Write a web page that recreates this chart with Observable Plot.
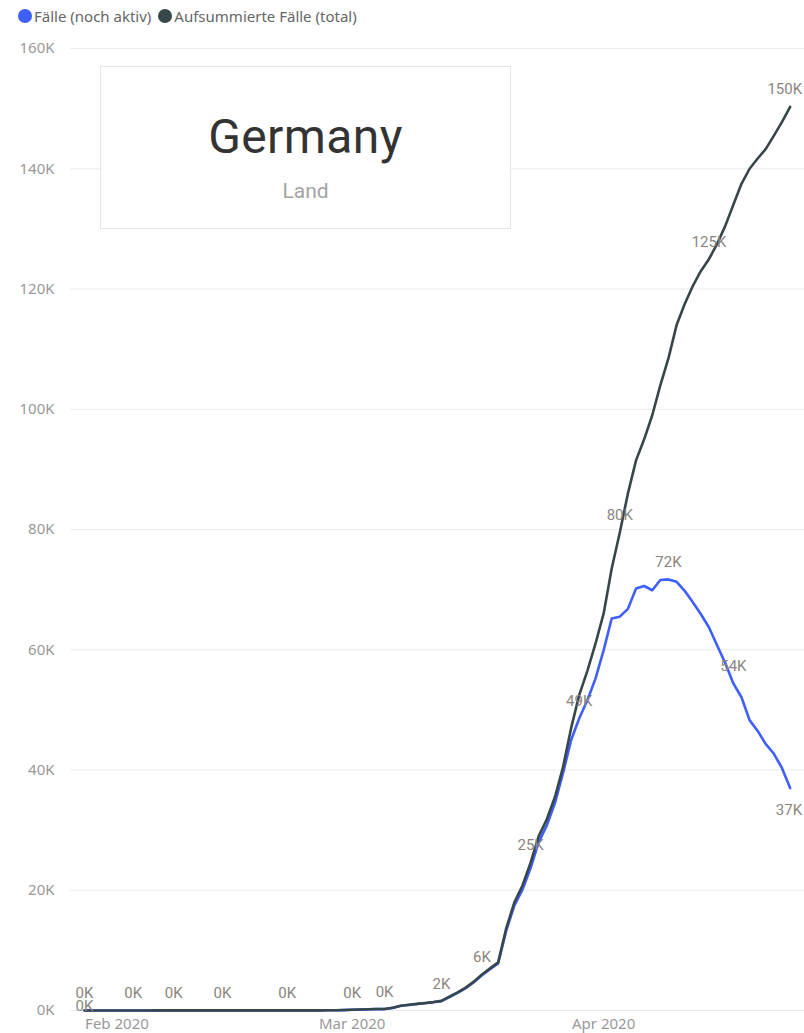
<!DOCTYPE html>
<html><head><meta charset="utf-8">
<script src="https://cdn.jsdelivr.net/npm/d3@7"></script>
<script src="https://cdn.jsdelivr.net/npm/@observablehq/plot@0.6"></script>
<style>
html,body{margin:0;padding:0;background:#fff;overflow:hidden;}
#wrap{position:relative;width:804px;height:1033px;}
#legend{height:32px;display:flex;align-items:center;font-family:"Noto Sans",sans-serif;font-size:15px;color:#666;padding-left:18px;box-sizing:border-box;}
.sw{display:inline-block;width:14px;height:14px;border-radius:50%;margin-right:2px;}
.item{display:flex;align-items:center;margin-right:7px;}
#card{position:absolute;left:100px;top:66px;width:411px;height:163px;border:1px solid #e6e6e6;background:#fff;font-family:Roboto,sans-serif;box-sizing:border-box;}
#card .t1{position:absolute;left:0;right:0;text-align:center;top:46px;font-size:48px;line-height:1;color:#333;letter-spacing:0.4px;}
#card .t2{position:absolute;left:0;right:0;text-align:center;top:114px;font-size:21px;line-height:1;color:#a3a3a3;}
</style></head>
<body>
<div id="wrap">
  <div id="legend"></div>
  <div id="chart"></div>
  <div id="card"><div class="t1">Germany</div><div class="t2">Land</div></div>
</div>
<script>
// ---- data ----
const startDate = "2020-01-28";
const endDate = "2020-04-24";
const seriesNames = ["Fälle (noch aktiv)", "Aufsummierte Fälle (total)"];
const seriesColors = ["#3f5ffb", "#374649"];

// Aufsummierte Fälle (total), daily Jan 28 – Apr 24
const totalCases = [
  4,4,4,5,
  7,8,10,12,12,13,13,14,14,14,16,16,16,16,16,16,16,16,16,16,16,16,16,16,17,27,46,48,79,
  130,159,196,262,250,450,800,950,1100,1250,1400,1600,2300,3000,3800,4800,6000,7000,8000,13700,18000,20800,24600,29000,31800,35500,40500,47000,52500,56500,61000,
  66000,73500,79500,86000,91500,95000,99000,104000,108500,114000,117500,120500,123000,125000,127500,130500,134000,137500,140000,141700,143300,145500,147800,150300
];
// Fälle (noch aktiv), daily Jan 28 – Apr 24
const activeCases = [
  4,4,4,5,
  7,8,10,12,12,13,13,14,14,14,15,14,12,11,10,9,8,6,5,4,3,2,2,2,3,13,32,34,65,
  116,145,182,248,235,435,780,925,1070,1215,1360,1550,2240,2930,3720,4700,5880,6860,7830,13300,17500,20100,23700,28000,30800,34500,39500,45000,48600,51600,55200,
  59900,65200,65500,66800,70200,70600,69900,71600,71700,71300,69800,67900,65900,63700,60700,57800,54400,52100,48300,46500,44300,42700,40300,37000
];

// dates that carry a data label
const totalLabelDates = ["2020-01-28","2020-02-03","2020-02-08","2020-02-14","2020-02-22","2020-03-01","2020-03-05","2020-03-12","2020-03-17","2020-03-23","2020-04-03","2020-04-14"];
const totalEndLabelDates = ["2020-04-24"];
const activeLabelDates = ["2020-03-29","2020-04-09","2020-04-17"];
const activeStartLabelDates = ["2020-01-28"];
const activeEndLabelDates = ["2020-04-24"];

const xTickDates = ["2020-02-01","2020-03-01","2020-04-01"];
const yTicks = [0,20000,40000,60000,80000,100000,120000,140000,160000];
const xDomain = ["2020-01-26T06:30Z","2020-04-25T18:30Z"];
const yDomain = [0,160000];

// ---- build table ----
const days = d3.utcDay.range(new Date(startDate), d3.utcDay.offset(new Date(endDate), 1));
const active = days.map((d,i) => ({date:d, value:activeCases[i], series:seriesNames[0]}));
const total = days.map((d,i) => ({date:d, value:totalCases[i], series:seriesNames[1]}));
const pick = (rows, list) => { const s = new Set(list.map(d => +new Date(d))); return rows.filter(r => s.has(+r.date)); };
const fmtK = v => Math.round(v/1000) + "K";

// ---- legend ----
const legend = document.getElementById("legend");
seriesNames.forEach((n,i) => {
  const it = document.createElement("span"); it.className = "item";
  const sw = document.createElement("span"); sw.className = "sw"; sw.style.background = seriesColors[i];
  it.appendChild(sw); it.appendChild(document.createTextNode(n));
  legend.appendChild(it);
});

const labelStyle = {fill:"#8a8580", fontSize:15, fontFamily:"Roboto, sans-serif"};

const chart = Plot.plot({
  width: 804,
  height: 1001,
  marginTop: 16,
  marginBottom: 23,
  marginLeft: 70,
  marginRight: 0,
  style: {fontFamily:"'Noto Sans', sans-serif", fontSize:"15px", color:"#999", background:"#fff"},
  x: {type:"utc", domain: xDomain.map(d => new Date(d)), label: null},
  y: {domain: yDomain, label: null},
  color: {domain: seriesNames, range: seriesColors},
  marks: [
    Plot.gridY(yTicks, {stroke:"#ebebeb", strokeOpacity:1, strokeWidth:1}),
    Plot.axisY({ticks: yTicks, tickSize:0, tickPadding:16, tickFormat: fmtK, fill:"#999", fontSize:15, label: null}),
    Plot.axisX({ticks: xTickDates.map(d => new Date(d)), tickSize:0, tickPadding:8, tickFormat: d3.utcFormat("%b %Y"), fill:"#999", fontSize:15, label: null}),
    Plot.line(active, {x:"date", y:"value", stroke: seriesColors[0], strokeWidth:2.6}),
    Plot.line(total, {x:"date", y:"value", stroke: seriesColors[1], strokeWidth:2.6}),
    Plot.text(pick(total, totalLabelDates), {x:"date", y:"value", text: d => fmtK(d.value), dy:-17, ...labelStyle}),
    Plot.text(pick(total, totalEndLabelDates), {x:"date", y:"value", text: d => fmtK(d.value), dy:-18, dx:12, textAnchor:"end", ...labelStyle}),
    Plot.text(pick(active, activeLabelDates), {x:"date", y:"value", text: d => fmtK(d.value), dy:-17, ...labelStyle}),
    Plot.text(pick(active, activeStartLabelDates), {x:"date", y:"value", text: d => fmtK(d.value), dy:-4, ...labelStyle}),
    Plot.text(pick(active, activeEndLabelDates), {x:"date", y:"value", text: d => fmtK(d.value), dy:22, dx:12, textAnchor:"end", ...labelStyle})
  ]
});
document.getElementById("chart").appendChild(chart);
</script>
</body></html>
